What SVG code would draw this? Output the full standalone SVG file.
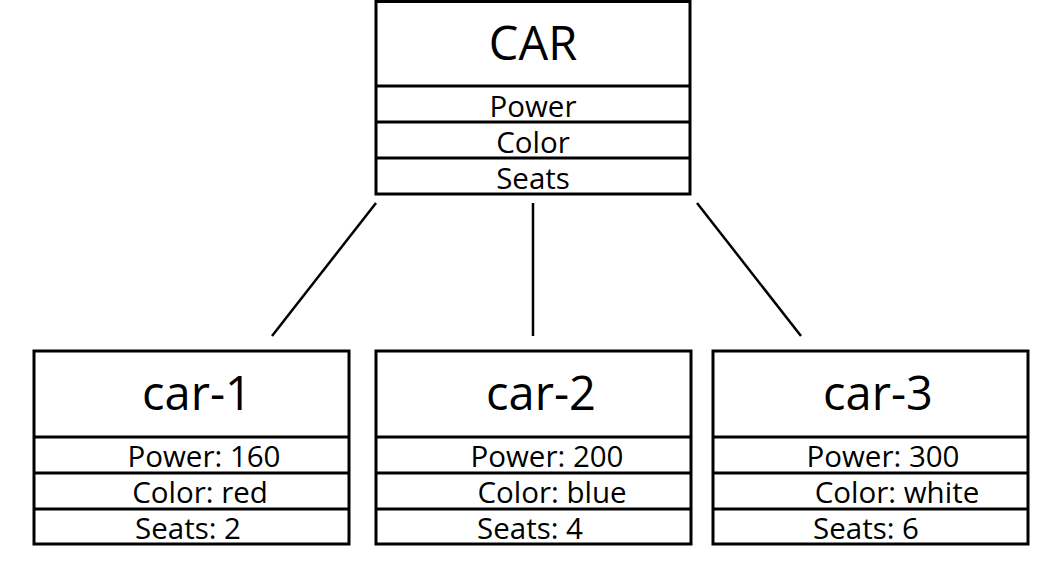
<svg xmlns="http://www.w3.org/2000/svg" width="1048" height="562" viewBox="0 0 1048 562">
<style>
.box{fill:#fff;stroke:#000;stroke-width:3}
.div{stroke:#000;stroke-width:3}
.conn{stroke:#000;stroke-width:2.5;fill:none}
.title{font-family:"Open Sans","Liberation Sans",sans-serif;font-size:47px;fill:#000}
.row{font-family:"Open Sans","Liberation Sans",sans-serif;font-size:29.5px;fill:#000}
</style>
<rect width="1048" height="562" fill="#fff"/>
<g id="connectors">
<line class="conn" x1="376" y1="203" x2="272" y2="336"/>
<line class="conn" x1="533" y1="203" x2="533" y2="336"/>
<line class="conn" x1="697" y1="203" x2="801" y2="336"/>
</g>
<g id="CAR">
<rect class="box" x="376" y="1.5" width="314" height="192.5"/>
<line class="div" x1="376" y1="86" x2="690" y2="86"/>
<line class="div" x1="376" y1="122" x2="690" y2="122"/>
<line class="div" x1="376" y1="158" x2="690" y2="158"/>
<text class="title" x="533" y="60" text-anchor="middle" font-size="49">CAR</text>
<text class="row" x="533" y="117" text-anchor="middle">Power</text>
<text class="row" x="533" y="153" text-anchor="middle">Color</text>
<text class="row" x="533" y="189" text-anchor="middle">Seats</text>
</g>
<g id="car-1">
<rect class="box" x="34" y="351" width="315" height="193"/>
<line class="div" x1="34" y1="437" x2="349" y2="437"/>
<line class="div" x1="34" y1="473" x2="349" y2="473"/>
<line class="div" x1="34" y1="509" x2="349" y2="509"/>
<text class="title" x="197" y="410" text-anchor="middle">car-1</text>
<text class="row" x="204" y="467" text-anchor="middle">Power: 160</text>
<text class="row" x="200" y="503" text-anchor="middle">Color: red</text>
<text class="row" x="188" y="539" text-anchor="middle">Seats: 2</text>
</g>
<g id="car-2">
<rect class="box" x="376" y="351" width="315" height="193"/>
<line class="div" x1="376" y1="437" x2="691" y2="437"/>
<line class="div" x1="376" y1="473" x2="691" y2="473"/>
<line class="div" x1="376" y1="509" x2="691" y2="509"/>
<text class="title" x="541" y="410" text-anchor="middle">car-2</text>
<text class="row" x="547" y="467" text-anchor="middle">Power: 200</text>
<text class="row" x="552" y="503" text-anchor="middle">Color: blue</text>
<text class="row" x="530" y="539" text-anchor="middle">Seats: 4</text>
</g>
<g id="car-3">
<rect class="box" x="713" y="351" width="315" height="193"/>
<line class="div" x1="713" y1="437" x2="1028" y2="437"/>
<line class="div" x1="713" y1="473" x2="1028" y2="473"/>
<line class="div" x1="713" y1="509" x2="1028" y2="509"/>
<text class="title" x="878" y="410" text-anchor="middle">car-3</text>
<text class="row" x="883" y="467" text-anchor="middle">Power: 300</text>
<text class="row" x="897" y="503" text-anchor="middle">Color: white</text>
<text class="row" x="866" y="539" text-anchor="middle">Seats: 6</text>
</g>
</svg>
